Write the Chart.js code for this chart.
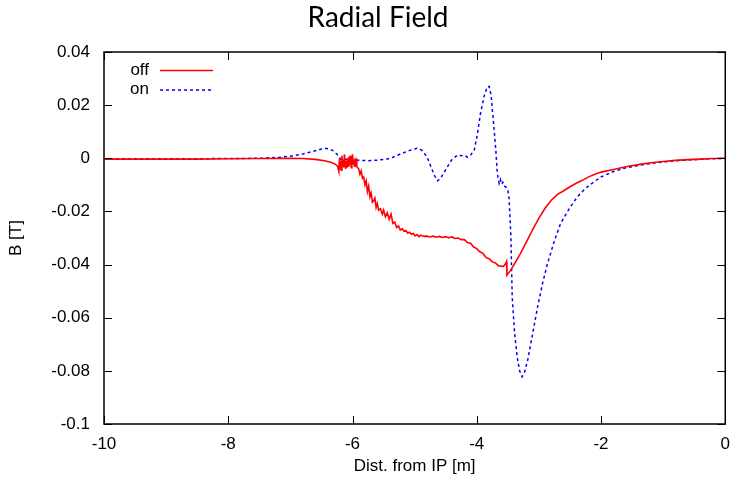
<!DOCTYPE html>
<html>
<head>
<meta charset="utf-8">
<script src="https://cdn.jsdelivr.net/npm/chart.js@4/dist/chart.umd.min.js"></script>
<style>
  html, body { margin: 0; padding: 0; background: #fff; }
  #wrap { width: 732px; height: 480px; position: relative; }
</style>
</head>
<body>
<div id="wrap"><canvas id="radial-chart"></canvas></div>
<script>
// Radial field along the beam line, magnet off / on

const chartTitle = "Radial Field";
const seriesNames = ["off", "on"];
const xTicks = [-10, -8, -6, -4, -2, 0];
const yTicks = [-0.1, -0.08, -0.06, -0.04, -0.02, 0, 0.02, 0.04];

const offX = [
  -10, -9.5, -9, -8.5, -8, -7.5, -7, -6.8, -6.6, -6.45, -6.35, -6.28, -6.24,
  -6.22, -6.21, -6.2, -6.19, -6.18, -6.17, -6.16, -6.15, -6.14, -6.13, -6.12, -6.11,
  -6.1, -6.09, -6.08, -6.07, -6.06, -6.05, -6.04, -6.03, -6.02, -6.01, -6.0, -5.99,
  -5.98, -5.97, -5.96, -5.95, -5.94, -5.93, -5.92,
  -5.9, -5.88, -5.86, -5.84, -5.82, -5.8, -5.78, -5.76, -5.74, -5.72, -5.7, -5.68,
  -5.66, -5.64, -5.62, -5.6, -5.58, -5.55, -5.52, -5.5, -5.47, -5.44, -5.41, -5.38,
  -5.35, -5.32, -5.29, -5.26, -5.23, -5.2, -5.17, -5.14, -5.11, -5.08, -5.05, -5.02,
  -4.99, -4.96, -4.93, -4.9, -4.85, -4.8, -4.75, -4.7, -4.65, -4.6, -4.55, -4.5,
  -4.45, -4.4, -4.35, -4.3, -4.25, -4.2, -4.15, -4.1, -4.05, -4.0, -3.95, -3.9,
  -3.85, -3.8, -3.75, -3.7, -3.65, -3.6, -3.57, -3.54, -3.52, -3.515,
  -3.45, -3.4, -3.3, -3.2, -3.1, -3.0, -2.9, -2.8, -2.7, -2.6, -2.5, -2.4, -2.3,
  -2.2, -2.1, -2.0, -1.8, -1.6, -1.4, -1.2, -1.0, -0.8, -0.6, -0.4, -0.2, 0
];
const offY = [
  -0.0003, -0.0003, -0.0003, -0.0003, -0.0002, -0.0001, 0.0, -0.0001, -0.0004, -0.0009, -0.0015, -0.0022, -0.003,
  -0.005, 0.0, -0.004, -0.001, -0.0045, 0.001, -0.003, -0.0005, -0.0035, 0.0015, -0.002, -0.004,
  -0.001, -0.0035, 0.0, -0.003, 0.0005, -0.0025, 0.001, -0.001, -0.0035, -0.001, 0.0015, -0.002,
  -0.0005, -0.003, 0.0, -0.002, -0.001, -0.003, -0.0035,
  -0.004, -0.006, -0.0048, -0.0075, -0.007, -0.01, -0.0085, -0.0125, -0.0105, -0.0145, -0.013, -0.0165,
  -0.016, -0.015, -0.0185, -0.017, -0.0195, -0.019, -0.021, -0.0195, -0.022, -0.0205, -0.023, -0.021,
  -0.0245, -0.024, -0.026, -0.0255, -0.027, -0.0265, -0.0275, -0.0272, -0.0282, -0.0278, -0.0286, -0.0283,
  -0.0292, -0.0287, -0.0295, -0.0289, -0.0294, -0.0293, -0.0296, -0.0293, -0.0297, -0.0294, -0.0298, -0.0295,
  -0.0299, -0.0296, -0.0302, -0.03, -0.0306, -0.0306, -0.0317, -0.032, -0.0334, -0.034, -0.0352, -0.0358,
  -0.0374, -0.0378, -0.039, -0.0394, -0.0404, -0.0406, -0.0407, -0.0398, -0.0388, -0.044,
  -0.042, -0.04, -0.036, -0.0315, -0.0268, -0.0225, -0.0188, -0.0158, -0.0136, -0.0122, -0.0107, -0.0094, -0.0083,
  -0.007, -0.006, -0.0052, -0.0042, -0.0032, -0.0024, -0.0017, -0.0012, -0.0008, -0.0005, -0.0003, -0.0001, 0
];

const onX = [
  -10, -9, -8, -7.5, -7.2, -7.0, -6.8, -6.6, -6.5, -6.42, -6.35, -6.3, -6.25, -6.2,
  -6.18, -6.1, -6.03, -5.95, -5.85, -5.76, -5.6, -5.44, -5.35, -5.23, -5.1, -4.96,
  -4.92, -4.88, -4.8, -4.74, -4.68, -4.63, -4.58, -4.53, -4.47, -4.4, -4.31, -4.25,
  -4.2, -4.15, -4.1, -4.04, -3.99, -3.94, -3.88, -3.83, -3.8, -3.77, -3.72, -3.69,
  -3.67, -3.64, -3.62, -3.6, -3.58, -3.56, -3.53, -3.5, -3.48, -3.45, -3.43, -3.39,
  -3.35, -3.31, -3.27, -3.23, -3.18, -3.1, -3.02, -2.94, -2.86, -2.75, -2.65, -2.5,
  -2.38, -2.25, -2.11, -2.0, -1.8, -1.6, -1.35, -1.1, -0.7, -0.35, 0
];
const onY = [
  -0.0002, -0.0002, -0.0001, 0.0, 0.0003, 0.0008, 0.0016, 0.0028, 0.0035, 0.0037, 0.0033, 0.0027, 0.0015, 0.0,
  -0.0006, -0.0004, -0.0007, -0.0006, -0.0008, -0.0009, -0.0007, -0.0003, 0.0004, 0.0016, 0.0028, 0.0038,
  0.0036, 0.0029, 0.0005, -0.0031, -0.0065, -0.0085, -0.0075, -0.0055, -0.0031, -0.0005, 0.0012, 0.001,
  0.0012, 0.0004, 0.0012, 0.0031, 0.009, 0.0169, 0.0235, 0.027, 0.027, 0.0238, 0.0107, 0.002,
  -0.0056, -0.0094, -0.008, -0.0098, -0.009, -0.0104, -0.0108, -0.0119, -0.015, -0.03, -0.052, -0.066,
  -0.0747, -0.08, -0.0822, -0.0805, -0.0759, -0.066, -0.0558, -0.047, -0.0395, -0.031, -0.0245, -0.0185,
  -0.0145, -0.0113, -0.0088, -0.007, -0.005, -0.0036, -0.0025, -0.0016, -0.0008, -0.0003, 0
];

const fontFamily = "'Liberation Sans', Arial, sans-serif";
const tickFont = "17px " + fontFamily;

function toPoints(xs, ys) {
  return xs.map((x, i) => ({ x: x, y: ys[i] }));
}

// gnuplot style frame, inward ticks, key and title
const gnuplotFrame = {
  id: "gnuplotFrame",
  afterDatasetsDraw(chart) {
    const { ctx, chartArea: a, scales } = chart;
    const tl = 8;
    ctx.save();
    ctx.strokeStyle = "#000";
    ctx.lineWidth = 1.5;
    ctx.strokeRect(a.left, a.top, a.right - a.left, a.bottom - a.top);
    ctx.lineWidth = 1;
    ctx.beginPath();
    xTicks.forEach(v => {
      const px = Math.round(scales.x.getPixelForValue(v)) + 0.5;
      ctx.moveTo(px, a.bottom); ctx.lineTo(px, a.bottom - tl);
      ctx.moveTo(px, a.top); ctx.lineTo(px, a.top + tl);
    });
    yTicks.forEach(v => {
      const py = Math.round(scales.y.getPixelForValue(v)) + 0.5;
      ctx.moveTo(a.left, py); ctx.lineTo(a.left + tl, py);
      ctx.moveTo(a.right, py); ctx.lineTo(a.right - tl, py);
    });
    ctx.stroke();

    // key
    ctx.font = tickFont;
    ctx.fillStyle = "#000";
    ctx.textAlign = "right";
    ctx.textBaseline = "middle";
    chart.data.datasets.forEach((ds, i) => {
      const y = a.top + 18 + i * 19.5;
      ctx.fillText(ds.label, 149, y);
      ctx.strokeStyle = ds.borderColor;
      ctx.lineWidth = ds.borderWidth;
      ctx.setLineDash(ds.borderDash || []);
      ctx.beginPath();
      ctx.moveTo(160, y + 0.5);
      ctx.lineTo(i === 0 ? 213 : 211, y + 0.5);
      ctx.stroke();
      ctx.setLineDash([]);
    });

    // title
    ctx.font = "28px Lato, 'DejaVu Sans', sans-serif";
    ctx.textAlign = "center";
    ctx.textBaseline = "alphabetic";
    ctx.fillText(chartTitle, 378, 27);
    ctx.restore();
  }
};

new Chart(document.getElementById("radial-chart"), {
  type: "line",
  data: {
    datasets: [
      {
        label: seriesNames[0],
        data: toPoints(offX, offY),
        borderColor: "#ff0000",
        borderWidth: 1.6,
        pointRadius: 0,
        tension: 0
      },
      {
        label: seriesNames[1],
        data: toPoints(onX, onY),
        borderColor: "#0000ff",
        borderWidth: 1.5,
        borderDash: [3, 3],
        pointRadius: 0,
        tension: 0
      }
    ]
  },
  options: {
    responsive: true,
    maintainAspectRatio: false,
    animation: false,
    layout: { padding: { top: 52, right: 0, left: 0, bottom: 0 } },
    plugins: {
      legend: { display: false },
      title: { display: false },
      tooltip: { enabled: false }
    },
    scales: {
      x: {
        type: "linear",
        min: -10,
        max: 0,
        afterBuildTicks: s => { s.ticks = xTicks.map(v => ({ value: v })); },
        afterFit: s => { s.height = 56; },
        grid: { display: false },
        border: { display: false },
        ticks: { color: "#000", font: { family: fontFamily, size: 17 }, padding: 2, maxRotation: 0 },
        title: { display: true, text: "Dist. from IP [m]", color: "#000", font: { family: fontFamily, size: 17 }, padding: { top: 0, bottom: 3 } }
      },
      y: {
        type: "linear",
        min: -0.1,
        max: 0.04,
        afterBuildTicks: s => { s.ticks = yTicks.map(v => ({ value: v })); },
        afterFit: s => { s.width = 104; },
        grid: { display: false },
        border: { display: false },
        ticks: {
          color: "#000",
          font: { family: fontFamily, size: 17 },
          padding: 6,
          callback: v => String(parseFloat(v.toFixed(2)))
        },
        title: { display: true, text: "B [T]", color: "#000", font: { family: fontFamily, size: 17 }, padding: { top: 6, bottom: 0 } }
      }
    }
  },
  plugins: [gnuplotFrame]
});
</script>
</body>
</html>
